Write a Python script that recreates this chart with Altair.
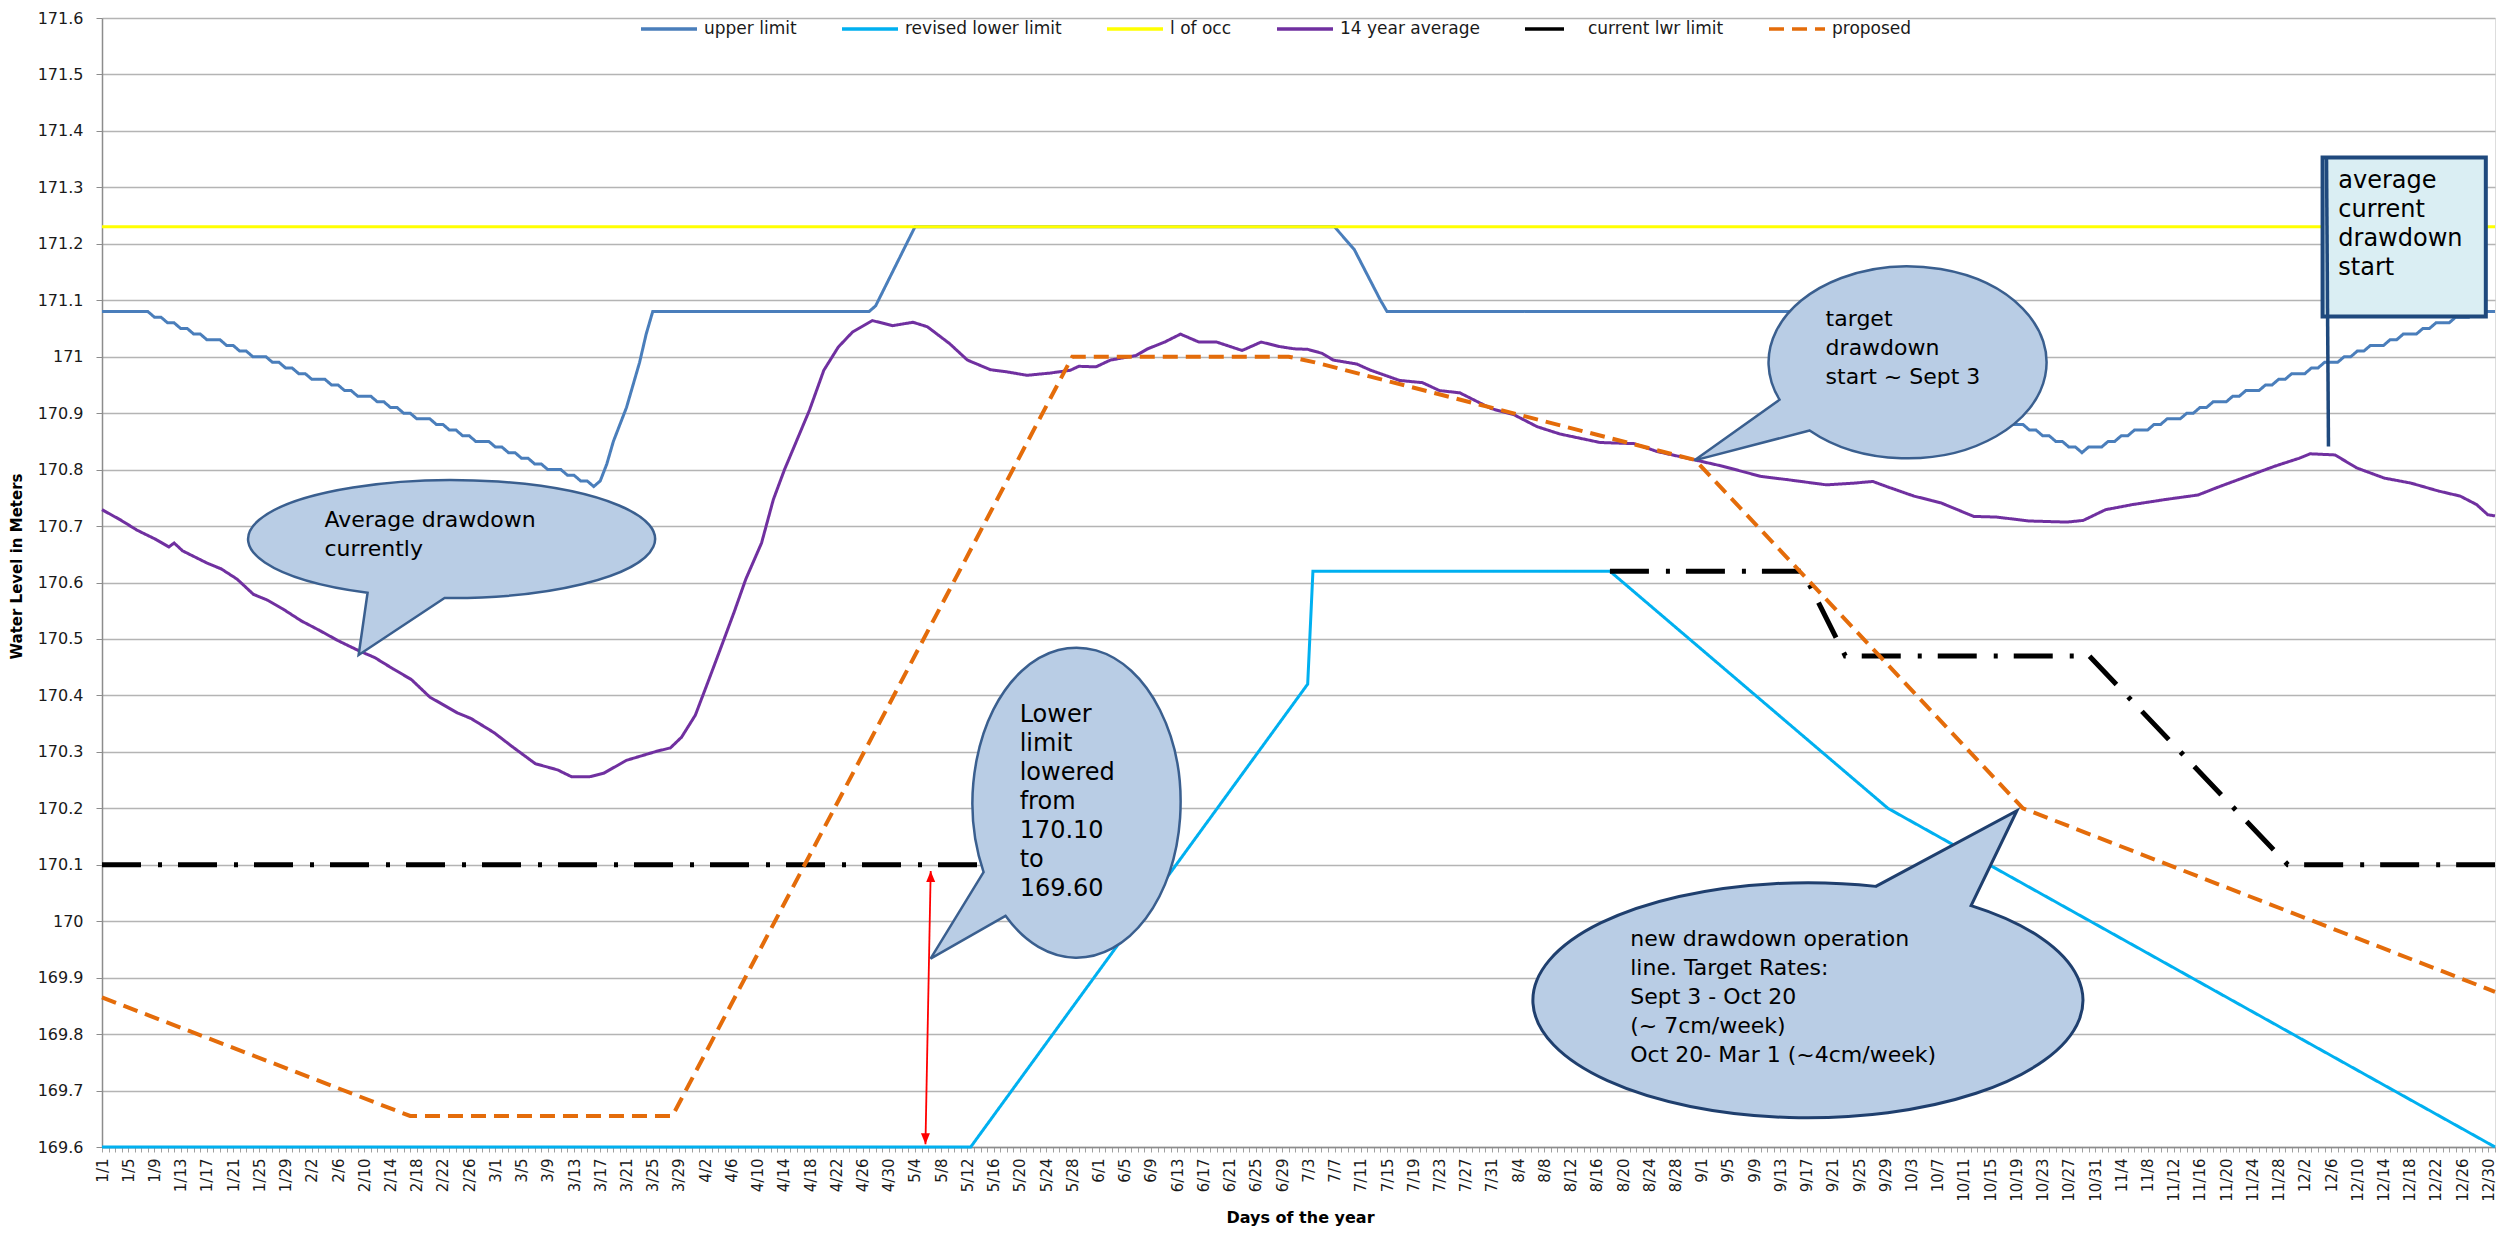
import json
import math
import altair as alt
import pandas as pd

FONT = "DejaVu Sans"

# ---------------- categories / tick labels ----------------
DAYS = [f"{d.month}/{d.day}" for d in pd.date_range("2012-01-01", "2012-12-31", freq="D")]
TICK_LABELS = DAYS[::4]
Y_TICKS = [169.6, 169.7, 169.8, 169.9, 170.0, 170.1, 170.2, 170.3, 170.4, 170.5, 170.6,
           170.7, 170.8, 170.9, 171.0, 171.1, 171.2, 171.3, 171.4, 171.5, 171.6]

SERIES = ["upper limit", "revised lower limit", "l of occ", "14 year average",
          "current lwr limit", "proposed"]
COLORS = ["#4A7EBB", "#00B0F0", "#FFFF00", "#7030A0", "#000000", "#E46C0A"]
DASHES = [[1, 0], [1, 0], [1, 0], [1, 0], [39, 17, 4, 16], [15, 8]]
WIDTHS = [3, 3, 3, 3, 5, 4]

# ---------------- series values (day index, metres) ----------------
UPPER_LIMIT = [
    (0, 171.08), (7, 171.08), (8, 171.07), (9, 171.07), (10, 171.06), (11, 171.06),
    (12, 171.05), (13, 171.05), (14, 171.04), (15, 171.04), (16, 171.03), (18, 171.03),
    (19, 171.02), (20, 171.02), (21, 171.01), (22, 171.01), (23, 171.00), (25, 171.00),
    (26, 170.99), (27, 170.99), (28, 170.98), (29, 170.98), (30, 170.97), (31, 170.97),
    (32, 170.96), (34, 170.96), (35, 170.95), (36, 170.95), (37, 170.94), (38, 170.94),
    (39, 170.93), (41, 170.93), (42, 170.92), (43, 170.92), (44, 170.91), (45, 170.91),
    (46, 170.90), (47, 170.90), (48, 170.89), (50, 170.89), (51, 170.88), (52, 170.88),
    (53, 170.87), (54, 170.87), (55, 170.86), (56, 170.86), (57, 170.85), (59, 170.85),
    (60, 170.84), (61, 170.84), (62, 170.83), (63, 170.83), (64, 170.82), (65, 170.82),
    (66, 170.81), (67, 170.81), (68, 170.80), (70, 170.80), (71, 170.79), (72, 170.79),
    (73, 170.78), (74, 170.78), (75, 170.77), (76, 170.78), (77, 170.81), (78, 170.85),
    (79, 170.88), (80, 170.91), (81, 170.95), (82, 170.99), (83, 171.04), (84, 171.08),
    (117, 171.08), (118, 171.09), (124, 171.23), (188, 171.23), (191, 171.19),
    (193, 171.145), (195, 171.10), (196, 171.08), (258, 171.08), (290, 170.89),
    (291, 170.88), (293, 170.88), (294, 170.87), (295, 170.87), (296, 170.86), (297, 170.86),
    (298, 170.85), (299, 170.85), (300, 170.84), (301, 170.84), (302, 170.83), (303, 170.84),
    (305, 170.84), (306, 170.85), (307, 170.85), (308, 170.86), (309, 170.86), (310, 170.87),
    (312, 170.87), (313, 170.88), (314, 170.88), (315, 170.89), (317, 170.89), (318, 170.90),
    (319, 170.90), (320, 170.91), (321, 170.91), (322, 170.92), (324, 170.92), (325, 170.93),
    (326, 170.93), (327, 170.94), (329, 170.94), (330, 170.95), (331, 170.95), (332, 170.96),
    (333, 170.96), (334, 170.97), (336, 170.97), (337, 170.98), (338, 170.98), (339, 170.99),
    (341, 170.99), (342, 171.00), (343, 171.00), (344, 171.01), (345, 171.01), (346, 171.02),
    (348, 171.02), (349, 171.03), (350, 171.03), (351, 171.04), (353, 171.04), (354, 171.05),
    (355, 171.05), (356, 171.06), (358, 171.06), (359, 171.07), (361, 171.07), (362, 171.08),
    (365, 171.08),
]
REVISED_LOWER = [(0, 169.6), (132.5, 169.6), (183.9, 170.42), (184.7, 170.62),
                 (230, 170.62), (272.4, 170.20), (365, 169.60)]
L_OF_OCC = [(0, 171.23), (365, 171.23)]
AVG_14YR = [
    (0, 170.729), (2.8, 170.711), (5.3, 170.693), (8.1, 170.677), (10.2, 170.663), (11.0, 170.670),
    (12.3, 170.656), (16.1, 170.634), (18.2, 170.624), (20.6, 170.606), (23.1, 170.579),
    (25.2, 170.569), (27.6, 170.553), (30.4, 170.532), (33.2, 170.515), (36.0, 170.497),
    (39.2, 170.479), (41.6, 170.467), (44.4, 170.447), (47.2, 170.428), (50.0, 170.397),
    (54.2, 170.369), (56.3, 170.359), (59.8, 170.334), (62.6, 170.309), (66.1, 170.279),
    (69.5, 170.268), (71.6, 170.256), (74.4, 170.256), (76.5, 170.262), (80.0, 170.285),
    (84.6, 170.301), (86.7, 170.307), (88.4, 170.326), (90.5, 170.365), (92.6, 170.429),
    (94.7, 170.494), (96.4, 170.547), (98.2, 170.606), (100.6, 170.670), (102.4, 170.747),
    (104.1, 170.800), (106.2, 170.858), (107.9, 170.905), (110.1, 170.976), (112.3, 171.017),
    (114.5, 171.044), (117.5, 171.064), (120.6, 171.055), (123.7, 171.061), (125.9, 171.053),
    (129.3, 171.023), (132.0, 170.994), (135.5, 170.977), (138.1, 170.973), (141.1, 170.967),
    (144.6, 170.971), (147.7, 170.976), (149.0, 170.983), (151.6, 170.982), (153.8, 170.994),
    (157.7, 171.002), (159.5, 171.014), (162.1, 171.026), (164.5, 171.040), (167.3, 171.026),
    (170.0, 171.026), (173.9, 171.011), (176.8, 171.026), (179.6, 171.018), (181.8, 171.014),
    (183.9, 171.013), (186.1, 171.006), (187.8, 170.994), (191.4, 170.987), (193.5, 170.976),
    (197.9, 170.958), (201.4, 170.954), (204.0, 170.940), (207.1, 170.936), (211.9, 170.908),
    (215.4, 170.897), (218.9, 170.876), (222.4, 170.863), (228.5, 170.848), (233.7, 170.846),
    (237.2, 170.832), (243.0, 170.817), (247.2, 170.806), (253.0, 170.788), (257.2, 170.782),
    (263.0, 170.773), (267.2, 170.776), (270.1, 170.779), (272.2, 170.770), (276.4, 170.753),
    (280.5, 170.741), (285.5, 170.717), (288.9, 170.716), (293.9, 170.709), (299.7, 170.707),
    (302.2, 170.710), (305.6, 170.729), (309.7, 170.738), (314.7, 170.747), (319.7, 170.755),
    (323.0, 170.770), (327.2, 170.788), (331.4, 170.806), (335.1, 170.820), (336.8, 170.828),
    (340.6, 170.826), (343.9, 170.803), (348.1, 170.785), (352.2, 170.776), (356.4, 170.762),
    (359.7, 170.753), (362.2, 170.738), (363.9, 170.720), (365, 170.718),
]
CURRENT_LWR_A = [(0, 170.10), (136, 170.10)]
CURRENT_LWR_B = [(230, 170.62), (259.4, 170.62), (265.9, 170.47), (303.1, 170.47),
                 (333.4, 170.10), (365, 170.10)]
PROPOSED = [(0, 169.865), (47, 169.655), (87, 169.655), (148, 171.0), (181, 171.0),
            (185, 170.99), (243, 170.817), (293, 170.20), (365, 169.875)]


def frame(name, pts, seg=0):
    return pd.DataFrame({"series": name, "idx": [p[0] for p in pts],
                         "value": [p[1] for p in pts], "seg": seg})


label_expr = ("datum.value % 4 === 0 ? " + json.dumps(TICK_LABELS) +
              "[round(datum.value / 4)] : ''")

x_axis = alt.Axis(values=list(range(366)), labelExpr=label_expr, labelAngle=-90,
                  labelOverlap=False, labelFlush=False, labelBound=False,
                  labelFont=FONT, labelFontSize=15, labelColor="#1a1a1a", labelPadding=6,
                  tickSize=5, tickColor="#A0A0A0", tickWidth=1,
                  domainColor="#8C8C8C", domainWidth=1.5, grid=False,
                  title="Days of the year", titleFont=FONT, titleFontSize=16,
                  titleFontWeight="bold", titleColor="#000000",
                  titleX=1198, titleY=62, titleBaseline="top", titleAlign="center")
y_axis = alt.Axis(values=Y_TICKS, format=".1~f", grid=True, gridColor="#B4B4B4",
                  gridWidth=1.5, tickSize=6, tickColor="#8C8C8C", domainColor="#8C8C8C",
                  domainWidth=1.5, labelPadding=13, labelFont=FONT, labelFontSize=16,
                  labelColor="#1a1a1a", title="Water Level in Meters", titleFont=FONT,
                  titleFontSize=15, titleFontWeight="bold", titleColor="#000000",
                  titleX=-86, titleY=548, titleAngle=270, titleBaseline="middle",
                  titleAlign="center")

X = alt.X("idx:Q", scale=alt.Scale(domain=[0, 365], nice=False, zero=False), axis=x_axis)
Y = alt.Y("value:Q", scale=alt.Scale(domain=[169.6, 171.6], nice=False, zero=False), axis=y_axis)

legend = alt.Legend(title=None, orient="none", legendX=537, legendY=-19, direction="horizontal",
                    columns=6, symbolType="stroke", symbolSize=3136, symbolStrokeWidth=3.5,
                    labelFont=FONT, labelFontSize=17, labelColor="#1a1a1a", labelOffset=5,
                    columnPadding=38, labelLimit=400, padding=0)
COLOR = alt.Color("series:N", scale=alt.Scale(domain=SERIES, range=COLORS), legend=legend)
DASH = alt.StrokeDash("series:N", scale=alt.Scale(domain=SERIES, range=DASHES), legend=legend)


def line_layer(df, width):
    return alt.Chart(df).mark_line(strokeWidth=width).encode(
        x=X, y=Y, color=COLOR, strokeDash=DASH, detail="seg:N")


layers = [
    line_layer(frame(SERIES[0], UPPER_LIMIT), WIDTHS[0]),
    line_layer(frame(SERIES[1], REVISED_LOWER), WIDTHS[1]),
    line_layer(frame(SERIES[2], L_OF_OCC), WIDTHS[2]),
    line_layer(frame(SERIES[3], AVG_14YR), WIDTHS[3]),
    line_layer(pd.concat([frame(SERIES[4], CURRENT_LWR_A, 0),
                          frame(SERIES[4], CURRENT_LWR_B, 1)]), WIDTHS[4]),
    line_layer(frame(SERIES[5], PROPOSED), WIDTHS[5]),
]

# ---------------- callouts (ellipse + pointer) ----------------
def callout_path(rx, ry, ta, tb, tip):
    a = math.radians(ta)
    b = math.radians(tb)
    ax, ay = rx * math.cos(a), ry * math.sin(a)
    bx, by = rx * math.cos(b), ry * math.sin(b)
    return (f"M {ax:.2f} {ay:.2f} L {tip[0]} {tip[1]} L {bx:.2f} {by:.2f} "
            f"A {rx} {ry} 0 1 1 {ax:.2f} {ay:.2f} Z")


CALLOUTS = [
    dict(idx=53.33, value=170.677, rx=203.5, ry=59, ta=92.0, tb=114.4, tip=(-93, 116),
         stroke="#3A5F8F", sw=2.5),
    dict(idx=148.65, value=170.210, rx=104, ry=155, ta=133.1, tb=153.4, tip=(-146, 156),
         stroke="#3A5F8F", sw=2.5),
    dict(idx=275.4, value=170.990, rx=139, ry=96, ta=134.8, tb=157.1, tip=(-213, 98),
         stroke="#3A5F8F", sw=2.5),
    dict(idx=260.2, value=169.860, rx=275, ry=117.5, ta=-75.7, tb=-53.6, tip=(209, -189.5),
         stroke="#1F3F6E", sw=3),
]
callout_df = pd.DataFrame([{
    "idx": c["idx"], "value": c["value"],
    "path": callout_path(c["rx"], c["ry"], c["ta"], c["tb"], c["tip"]),
    "stroke": c["stroke"], "sw": c["sw"], "fill": "#B9CDE5"} for c in CALLOUTS])

layers.append(alt.Chart(callout_df).mark_point(size=4, opacity=1, filled=True).encode(
    x=X, y=Y, shape=alt.Shape("path:N", scale=None),
    fill=alt.Fill("fill:N", scale=None), stroke=alt.Stroke("stroke:N", scale=None),
    strokeWidth=alt.StrokeWidth("sw:Q", scale=None)))

# box callout "average current drawdown start"
box_df = pd.DataFrame({"idx": [338.7], "idx2": [363.6], "value": [171.353], "value2": [171.071]})
layers.append(alt.Chart(box_df).mark_rect(fill="#DAEEF3", stroke="#1F497D", strokeWidth=4).encode(
    x=X, x2="idx2:Q", y=Y, y2="value2:Q"))
box_line = pd.DataFrame({"idx": [339.3], "idx2": [339.6], "value": [171.353], "value2": [170.841]})
layers.append(alt.Chart(box_line).mark_rule(stroke="#1F497D", strokeWidth=3.5).encode(
    x=X, x2="idx2:Q", y=Y, y2="value2:Q"))

# callout texts (anchor = middle of the first line)
NOTES = pd.DataFrame([
    {"text": "Average drawdown\ncurrently", "idx": 33.93, "value": 170.711, "size": 22},
    {"text": "Lower\nlimit\nlowered\nfrom\n170.10\nto\n169.60", "idx": 139.97,
     "value": 170.366, "size": 24},
    {"text": "target\ndrawdown\nstart ~ Sept 3", "idx": 262.9, "value": 171.067, "size": 22},
    {"text": "new drawdown operation\nline. Target Rates:\nSept 3 - Oct 20\n(~ 7cm/week)\n"
             "Oct 20- Mar 1 (~4cm/week)", "idx": 233.1, "value": 169.968, "size": 22},
    {"text": "average\ncurrent\ndrawdown\nstart", "idx": 341.1, "value": 171.311, "size": 24},
])
layers.append(alt.Chart(NOTES).mark_text(lineBreak="\n", align="left", baseline="middle",
                                         lineHeight=29, font=FONT, color="#000000").encode(
    x=X, y=Y, text="text:N", size=alt.Size("size:Q", scale=None)))

# red double-headed arrow
arrow = pd.DataFrame({"idx": [126.4], "idx2": [125.6], "value": [170.089], "value2": [169.605]})
layers.append(alt.Chart(arrow).mark_rule(stroke="#FF0000", strokeWidth=1.8).encode(
    x=X, x2="idx2:Q", y=Y, y2="value2:Q"))
heads = pd.DataFrame({"idx": [126.4, 125.6], "value": [170.089, 169.605],
                      "path": ["M 0 0 L -4.5 11 L 4.5 11 Z", "M 0 0 L -4.5 -11 L 4.5 -11 Z"]})
layers.append(alt.Chart(heads).mark_point(size=4, opacity=1, filled=True, fill="#FF0000",
                                          strokeWidth=0).encode(
    x=X, y=Y, shape=alt.Shape("path:N", scale=None)))

chart = alt.layer(*layers).properties(
    width=2393, height=1129,
    autosize=alt.AutoSizeParams(type="none"),
    padding={"left": 94, "top": 10, "right": 6, "bottom": 80},
).configure_view(stroke="#404040", strokeWidth=1.5).configure(font=FONT)

chart.save("out.html", embed_options={"renderer": "svg", "actions": False})
